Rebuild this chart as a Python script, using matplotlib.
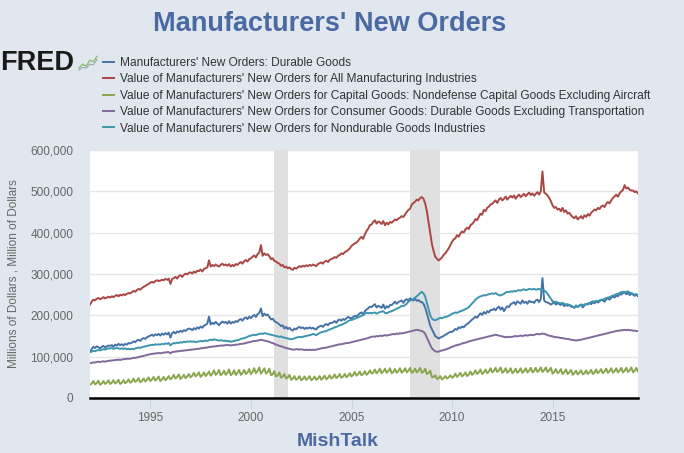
import matplotlib
matplotlib.use('Agg')
import matplotlib.pyplot as plt
import numpy as np
import pandas as pd

# monthly values, thousands of millions of dollars, Jan 1992 - Apr 2019
all_manuf = [
    226, 233, 238, 236, 240, 242, 239, 241, 244, 241, 243, 245,
    243, 246, 244, 247, 249, 246, 250, 248, 251, 249, 252, 254,
    253, 256, 259, 257, 261, 264, 262, 266, 269, 271, 274, 276,
    279, 281, 279, 283, 285, 283, 284, 286, 285, 288, 286, 289,
    276, 288, 290, 293, 289, 295, 297, 293, 298, 301, 299, 303,
    304, 301, 306, 303, 308, 307, 311, 306, 312, 314, 316, 333,
    318, 322, 319, 323, 320, 318, 322, 325, 321, 323, 320, 324,
    318, 322, 319, 324, 322, 326, 329, 325, 331, 334, 330, 336,
    338, 342, 345, 340, 348, 352, 370, 344, 350, 346, 348, 343,
    336, 338, 332, 330, 327, 325, 320, 322, 316, 318, 314, 316,
    312, 310, 315, 313, 316, 319, 317, 320, 318, 321, 319, 322,
    320, 323, 321, 319, 324, 326, 328, 325, 330, 332, 329, 334,
    336, 338, 341, 339, 344, 346, 350, 348, 353, 355, 358, 362,
    368, 371, 374, 376, 380, 386, 390, 385, 396, 404, 410, 418,
    420, 426, 430, 422, 427, 425, 421, 428, 418, 424, 420, 426,
    424, 428, 432, 430, 434, 436, 440, 438, 444, 450, 455, 458,
    468, 472, 475, 480, 478, 484, 486, 482, 470, 452, 425, 398,
    372, 355, 342, 337, 333, 336, 340, 346, 350, 356, 362, 370,
    378, 384, 386, 394, 390, 398, 403, 400, 408, 412, 409, 418,
    421, 426, 433, 430, 438, 446, 443, 455, 452, 460, 463, 468,
    470, 474, 478, 472, 480, 484, 478, 482, 487, 480, 485, 489,
    485, 490, 482, 488, 492, 486, 490, 494, 488, 493, 497, 491,
    495, 489, 494, 498, 492, 500, 548, 497, 494, 490, 484, 476,
    466, 460, 462, 456, 458, 452, 460, 450, 454, 446, 448, 442,
    438, 435, 440, 432, 436, 440, 434, 442, 438, 445, 441, 448,
    452, 456, 454, 460, 457, 463, 466, 462, 470, 474, 471, 478,
    484, 488, 492, 487, 495, 500, 503, 515, 507, 509, 504, 502,
    502, 498, 500, 495,
]

durable = [
    112, 118, 124, 121, 125, 123, 120, 124, 126, 122, 125, 127,
    126, 128, 124, 129, 127, 131, 128, 130, 127, 131, 129, 133,
    132, 134, 137, 135, 139, 141, 138, 143, 145, 143, 147, 149,
    151, 153, 150, 154, 152, 155, 151, 156, 153, 157, 154, 158,
    146, 157, 160, 156, 161, 159, 163, 160, 164, 162, 166, 168,
    167, 164, 169, 166, 171, 168, 173, 170, 175, 177, 180, 197,
    178, 182, 179, 184, 180, 176, 181, 185, 182, 184, 180, 186,
    180, 184, 182, 186, 184, 189, 191, 187, 193, 195, 191, 197,
    193, 198, 201, 196, 203, 206, 217, 198, 204, 200, 202, 196,
    190, 192, 186, 184, 181, 178, 174, 176, 168, 172, 167, 170,
    165, 163, 168, 166, 170, 172, 169, 171, 167, 170, 168, 171,
    168, 170, 167, 166, 171, 173, 175, 172, 177, 179, 176, 181,
    181, 183, 186, 182, 188, 190, 187, 191, 189, 193, 196, 194,
    193, 196, 199, 197, 201, 205, 207, 202, 210, 214, 217, 221,
    220, 224, 227, 219, 223, 221, 218, 226, 216, 222, 219, 225,
    225, 229, 233, 228, 232, 234, 236, 230, 237, 239, 236, 241,
    238, 236, 240, 235, 237, 233, 232, 228, 218, 205, 190, 175,
    166, 158, 150, 147, 144, 146, 148, 150, 153, 155, 158, 160,
    160, 163, 167, 165, 171, 169, 173, 171, 176, 179, 182, 186,
    190, 193, 197, 194, 200, 205, 201, 208, 204, 210, 207, 213,
    213, 216, 212, 218, 221, 214, 219, 210, 217, 222, 220, 227,
    229, 232, 226, 234, 231, 228, 236, 230, 233, 228, 235, 232,
    233, 230, 236, 238, 232, 240, 290, 236, 232, 231, 229, 226,
    229, 232, 226, 230, 227, 225, 229, 222, 226, 223, 225, 221,
    221, 218, 224, 220, 223, 226, 219, 224, 228, 226, 230, 227,
    232, 229, 235, 231, 234, 238, 236, 233, 239, 241, 238, 243,
    245, 243, 248, 246, 252, 250, 254, 256, 251, 255, 249, 253,
    250, 247, 251, 246,
]

capital_ex_air = [
    32, 35, 41, 33, 36, 42, 32, 35, 41, 34, 37, 43,
    34, 37, 43, 35, 38, 44, 34, 37, 43, 36, 39, 45,
    37, 40, 47, 39, 42, 48, 38, 41, 47, 40, 44, 50,
    41, 45, 51, 42, 46, 52, 41, 45, 51, 43, 47, 53,
    45, 49, 56, 47, 51, 57, 46, 50, 56, 48, 52, 58,
    50, 54, 61, 52, 56, 62, 51, 55, 62, 53, 58, 64,
    54, 59, 67, 56, 60, 68, 55, 59, 66, 56, 61, 69,
    55, 59, 67, 56, 61, 68, 56, 60, 68, 58, 62, 70,
    58, 63, 72, 60, 65, 74, 59, 64, 72, 59, 63, 71,
    55, 58, 65, 52, 55, 62, 49, 52, 58, 47, 50, 56,
    44, 47, 53, 44, 47, 53, 43, 46, 52, 44, 47, 53,
    43, 46, 52, 44, 47, 53, 44, 48, 54, 45, 49, 55,
    47, 50, 57, 48, 52, 58, 49, 52, 58, 50, 54, 60,
    52, 56, 63, 54, 58, 64, 55, 58, 65, 56, 60, 67,
    59, 62, 69, 60, 64, 71, 60, 64, 71, 61, 65, 72,
    60, 63, 70, 61, 65, 72, 61, 65, 72, 62, 66, 73,
    61, 64, 71, 62, 66, 73, 61, 64, 71, 58, 61, 66,
    50, 51, 55, 46, 48, 53, 45, 48, 53, 47, 50, 55,
    49, 52, 59, 51, 55, 61, 52, 56, 62, 53, 57, 64,
    56, 60, 67, 58, 62, 69, 58, 62, 69, 60, 64, 72,
    62, 66, 73, 63, 67, 74, 61, 65, 72, 61, 65, 72,
    60, 64, 71, 61, 65, 72, 61, 65, 72, 62, 66, 73,
    62, 66, 73, 63, 67, 74, 63, 67, 74, 63, 67, 73,
    59, 63, 70, 60, 63, 70, 58, 62, 69, 58, 62, 68,
    56, 60, 66, 57, 61, 67, 57, 60, 67, 58, 62, 68,
    58, 62, 69, 60, 64, 70, 60, 64, 71, 61, 65, 72,
    61, 65, 72, 62, 66, 73, 62, 66, 73, 63, 67, 74,
    62, 66, 73, 64,
]

consumer_ex_trans = [
    84, 85, 86, 86, 87, 88, 87, 88, 89, 88, 89, 90,
    90, 91, 91, 92, 92, 93, 92, 93, 94, 94, 95, 95,
    95, 96, 97, 97, 98, 99, 100, 101, 102, 103, 104, 105,
    106, 107, 107, 108, 108, 109, 108, 109, 110, 110, 111, 111,
    108, 111, 112, 112, 113, 113, 114, 114, 115, 115, 116, 116,
    117, 117, 118, 118, 119, 119, 120, 121, 121, 122, 122, 123,
    124, 124, 125, 125, 126, 126, 127, 127, 127, 128, 128, 128,
    127, 128, 128, 129, 129, 130, 131, 131, 132, 133, 134, 135,
    136, 137, 138, 138, 139, 140, 141, 140, 139, 138, 137, 136,
    134, 133, 131, 129, 128, 126, 125, 124, 122, 121, 120, 119,
    118, 117, 117, 118, 118, 117, 118, 117, 116, 117, 116, 117,
    116, 117, 116, 117, 118, 119, 120, 121, 121, 122, 123, 124,
    125, 126, 127, 128, 129, 130, 130, 131, 132, 133, 133, 134,
    135, 136, 137, 138, 139, 140, 141, 142, 143, 144, 145, 147,
    148, 149, 148, 150, 149, 151, 150, 151, 152, 151, 152, 153,
    154, 155, 154, 156, 155, 157, 156, 157, 158, 159, 160, 161,
    162, 163, 164, 165, 164, 163, 162, 160, 155, 146, 137, 128,
    120, 116, 113, 112, 112, 114, 115, 116, 117, 119, 120, 122,
    124, 125, 127, 128, 129, 130, 132, 133, 134, 135, 137, 138,
    139, 140, 141, 142, 143, 144, 145, 146, 147, 148, 149, 150,
    151, 152, 153, 152, 151, 150, 149, 148, 147, 148, 147, 148,
    148, 149, 150, 149, 150, 151, 150, 151, 152, 151, 152, 153,
    152, 153, 154, 155, 154, 155, 156, 155, 154, 152, 151, 150,
    149, 148, 147, 147, 146, 145, 145, 144, 143, 143, 142, 141,
    140, 140, 139, 140, 140, 141, 142, 143, 144, 145, 146, 147,
    148, 149, 150, 151, 152, 153, 154, 155, 156, 157, 158, 159,
    160, 161, 162, 163, 163, 164, 164, 165, 164, 165, 164, 164,
    163, 163, 162, 162,
]

nondurable = [
    111, 112, 114, 113, 115, 116, 115, 117, 118, 117, 119, 120,
    120, 121, 119, 120, 121, 120, 119, 120, 119, 120, 118, 119,
    118, 119, 118, 120, 121, 122, 121, 123, 124, 125, 126, 127,
    128, 129, 128, 130, 129, 130, 129, 131, 130, 132, 131, 133,
    127, 131, 133, 132, 134, 133, 135, 134, 136, 135, 137, 136,
    137, 136, 137, 135, 136, 137, 138, 137, 138, 139, 138, 140,
    141, 140, 142, 141, 140, 139, 140, 139, 138, 139, 137, 138,
    136, 137, 138, 139, 140, 141, 143, 144, 145, 146, 148, 150,
    151, 152, 153, 152, 154, 155, 156, 155, 157, 156, 155, 154,
    153, 152, 151, 150, 149, 148, 149, 147, 146, 145, 144, 143,
    142, 143, 144, 146, 147, 148, 147, 148, 149, 150, 151, 152,
    153, 155, 154, 152, 155, 157, 159, 160, 161, 162, 164, 166,
    167, 169, 171, 172, 174, 176, 177, 179, 181, 183, 186, 188,
    189, 190, 192, 193, 195, 197, 199, 200, 204, 206, 205, 206,
    205, 206, 207, 204, 206, 208, 209, 210, 206, 205, 207, 209,
    210, 212, 214, 216, 218, 220, 223, 222, 225, 228, 233, 236,
    237, 240, 243, 246, 250, 254, 257, 253, 245, 230, 215, 200,
    192, 189, 188, 190, 192, 194, 193, 195, 196, 197, 199, 201,
    204, 205, 207, 206, 208, 210, 211, 213, 215, 217, 220, 224,
    229, 233, 238, 241, 244, 246, 247, 249, 248, 250, 251, 252,
    253, 252, 254, 251, 249, 248, 250, 252, 255, 257, 256, 258,
    257, 259, 258, 260, 261, 260, 262, 263, 261, 262, 264, 263,
    263, 264, 262, 263, 264, 262, 261, 260, 257, 252, 246, 240,
    234, 232, 233, 231, 230, 229, 230, 228, 226, 227, 225, 224,
    221, 219, 222, 221, 224, 226, 225, 226, 227, 228, 230, 232,
    234, 233, 235, 234, 236, 237, 238, 240, 242, 243, 244, 246,
    248, 249, 251, 252, 254, 256, 257, 256, 257, 258, 255, 254,
    252, 250, 251, 249,
]

labels = [
    "Manufacturers' New Orders: Durable Goods",
    "Value of Manufacturers' New Orders for All Manufacturing Industries",
    "Value of Manufacturers' New Orders for Capital Goods: Nondefense Capital Goods Excluding Aircraft",
    "Value of Manufacturers' New Orders for Consumer Goods: Durable Goods Excluding Transportation",
    "Value of Manufacturers' New Orders for Nondurable Goods Industries",
]
colors = ['#4572a7', '#aa4643', '#89a54e', '#80699b', '#3d96ae']
series = [durable, all_manuf, capital_ex_air, consumer_ex_trans, nondurable]

recessions = [('2001-03-01', '2001-11-01'), ('2007-12-01', '2009-06-01')]

dates = pd.date_range('1992-01-01', periods=len(all_manuf), freq='MS')

bg = '#e1e7ef'
title_blue = '#4b6aa3'
sans = 'Liberation Sans'

fig = plt.figure(figsize=(6.84, 4.53), dpi=100, facecolor=bg)
ax = fig.add_axes([90 / 684, 1 - 398 / 453, 548 / 684, 248 / 453])
ax.set_facecolor('white')

for start, end in recessions:
    ax.axvspan(pd.Timestamp(start), pd.Timestamp(end), color='#e0e0e0', lw=0, zorder=1)

handles = []
for vals, col, lab in zip(series, colors, labels):
    h, = ax.plot(dates, np.array(vals) * 1000, color=col, lw=1.4, label=lab, zorder=3)
    handles.append(h)

ax.set_xlim(dates[0], dates[-1])
ax.set_ylim(0, 600000)
ax.set_yticks(range(0, 600001, 100000))
ax.set_yticklabels([f'{v:,}' for v in range(0, 600001, 100000)])
ax.set_xticks([pd.Timestamp(f'{y}-01-01') for y in range(1995, 2020, 5)])
ax.set_xticklabels([str(y) for y in range(1995, 2020, 5)])
ax.grid(axis='y', color='#e6e6e6', lw=1, zorder=0)
ax.set_axisbelow(True)

for s in ['top', 'right', 'left']:
    ax.spines[s].set_visible(False)
ax.spines['bottom'].set_color('black')
ax.spines['bottom'].set_linewidth(1.8)
ax.tick_params(axis='y', length=0, pad=12, labelcolor='#666666')
ax.tick_params(axis='x', length=7, color='#ccd6eb', pad=3, labelcolor='#666666')
for t in ax.get_xticklabels() + ax.get_yticklabels():
    t.set_family(sans)
    t.set_fontsize(8.5)

fig.text(14 / 684, 1 - 274 / 453, 'Millions of Dollars , Million of Dollars', rotation=90,
         ha='center', va='center', color='#666666', fontsize=8.5, family=sans)

fig.text(330 / 684, 1 - 24 / 453, "Manufacturers' New Orders", ha='center', va='center',
         fontsize=19.5, fontweight='bold', color=title_blue, family=sans)
fig.text(338 / 684, 1 - 441 / 453, 'MishTalk', ha='center', va='center',
         fontsize=14, fontweight='bold', color=title_blue, family=sans)

# FRED logo
fig.text(0, 1 - 63 / 453, 'FRED', ha='left', va='center', fontsize=19.5,
         fontweight='heavy', color='#1a1a1a', family=sans)
icon = fig.add_axes([78 / 684, 1 - 72 / 453, 20 / 684, 18 / 453])
icon.set_facecolor('#dfe6df')
icon.plot([0, 1, 2, 3, 4, 5], [1, 2, 1.5, 3, 2.6, 4], color='#8fbf6a', lw=1)
icon.plot([0, 1, 2, 3, 4, 5], [0.5, 1.2, 1.0, 2.0, 1.8, 3.2], color='#9aa5b0', lw=0.8)
icon.set_xlim(-0.3, 5.3)
icon.set_ylim(0, 4.6)
icon.axis('off')

fig.legend(handles=handles, labels=labels, loc='upper left',
           bbox_to_anchor=(103 / 684, 1 - 57 / 453), frameon=False,
           handlelength=0.9, handletextpad=0.5, labelspacing=0.37,
           borderaxespad=0, borderpad=0,
           prop={'family': sans, 'size': 8.6}, labelcolor='#333333')

fig.savefig('out.png', dpi=100, facecolor=bg)
